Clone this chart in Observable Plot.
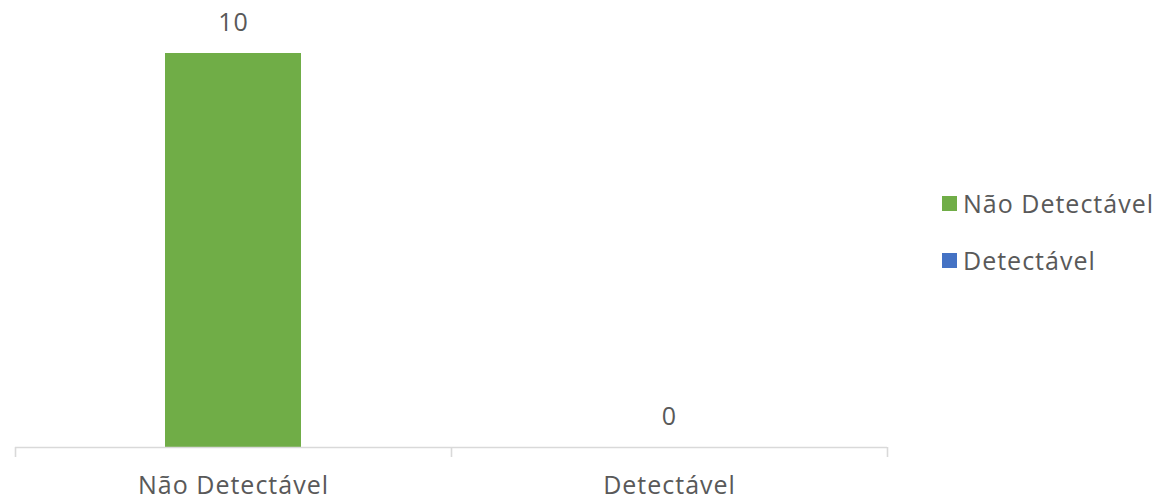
<!DOCTYPE html>
<html>
<head>
<meta charset="utf-8">
<script src="https://cdn.jsdelivr.net/npm/d3@7"></script>
<script src="https://cdn.jsdelivr.net/npm/@observablehq/plot@0.6"></script>
<style>
  html, body { margin: 0; padding: 0; background: #fff; }
  #wrap { position: relative; width: 1159px; height: 499px; font-family: "Open Sans", sans-serif; }
  #legend { position: absolute; left: 942px; top: 0; color: #595959; font-size: 25px; letter-spacing: 1px; }
  .item { position: absolute; left: 0; display: flex; align-items: center; white-space: nowrap; height: 30px; }
  .sw { width: 15px; height: 15px; margin-right: 6px; }
</style>
</head>
<body>
<div id="wrap"><div id="legend"></div></div>
<script>
const categories = ["Não Detectável", "Detectável"];
const values = [10, 0];
const colors = ["#70AD47", "#4472C4"];

const data = categories.map((c, i) => ({category: c, value: values[i]}));

const W = 1159, H = 499;
const mL = 15, mR = 272, mT = 53, mB = 52;
const step = (W - mL - mR) / categories.length;

const plot = Plot.plot({
  width: W,
  height: H,
  marginLeft: mL,
  marginRight: mR,
  marginTop: mT,
  marginBottom: mB,
  style: {fontFamily: "Open Sans, sans-serif", background: "#fff", letterSpacing: "1px"},
  x: {domain: categories, paddingInner: 0.688, paddingOuter: 0.344, axis: null},
  y: {domain: [0, 10], axis: null},
  color: {domain: categories, range: colors},
  marks: [
    Plot.barY(data, {x: "category", y: "value", fill: "category"}),
    Plot.ruleY([0], {stroke: "#d9d9d9", strokeWidth: 1.6}),
    Plot.ruleX(categories, {x: d => d, y1: 0, y2: 0, dx: -step / 2, insetBottom: -10, stroke: "#d9d9d9", strokeWidth: 1.6}),
    Plot.ruleX(categories.slice(-1), {x: d => d, y1: 0, y2: 0, dx: step / 2, insetBottom: -10, stroke: "#d9d9d9", strokeWidth: 1.6}),
    Plot.text(data, {x: "category", y: "value", text: d => String(d.value), lineAnchor: "bottom", dy: -23, fill: "#595959", fontSize: 25}),
    Plot.text(data, {x: "category", frameAnchor: "bottom", text: "category", lineAnchor: "bottom", dy: 46, fill: "#595959", fontSize: 25})
  ]
});
const wrap = document.getElementById("wrap");
wrap.insertBefore(plot, wrap.firstChild);

const legend = document.getElementById("legend");
const tops = [188, 245];
categories.forEach((c, i) => {
  const it = document.createElement("div");
  it.className = "item";
  it.style.top = tops[i] + "px";
  const sw = document.createElement("span");
  sw.className = "sw";
  sw.style.background = colors[i];
  const tx = document.createElement("span");
  tx.textContent = c;
  it.appendChild(sw); it.appendChild(tx);
  legend.appendChild(it);
});
</script>
</body>
</html>
